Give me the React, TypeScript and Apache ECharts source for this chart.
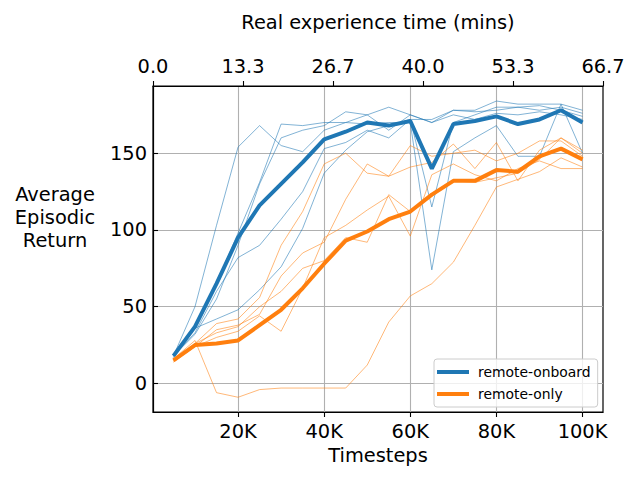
import React, { useEffect, useRef } from "react";
import * as echarts from "echarts";

const timesteps = [
  5000, 10000, 15000, 20000, 25000, 30000, 35000, 40000, 45000, 50000,
  55000, 60000, 65000, 70000, 75000, 80000, 85000, 90000, 95000, 100000,
];

const onboardMean = [18, 37, 65, 95, 116, 130, 144, 159, 164, 170, 168, 171, 140, 169, 171, 174, 169, 172, 178, 170];
const onlyMean = [15, 25, 26, 28, 38, 48, 62, 78, 93, 99, 107, 112, 123, 132, 132, 139, 138, 148, 153, 146];

const onboardRun1 = [18, 50, 103, 154, 168, 155, 151, 165, 170, 175, 165, 175, 170, 178, 178, 184, 182, 182, 182, 178];
const onboardRun2 = [17, 36, 65, 98, 131, 169, 168, 170, 170, 169, 170, 170, 74, 151, 160, 168, 148, 148, 182, 150];
const onboardRun3 = [18, 33, 60, 82, 90, 107, 125, 153, 157, 165, 160, 172, 115, 170, 175, 180, 180, 178, 180, 176];
const onboardRun4 = [17, 36, 42, 48, 61, 76, 101, 137, 152, 164, 168, 172, 172, 178, 177, 178, 180, 181, 178, 174];
const onboardRun5 = [18, 32, 55, 90, 130, 160, 165, 168, 177, 175, 180, 175, 170, 175, 172, 176, 175, 177, 175, 172];

const onlyRun1 = [16, 28, -6, -9, -4, -3, -3, -3, -3, 12, 40, 57, 65, 79, 103, 128, 133, 138, 147, 141];
const onlyRun2 = [15, 26, 39, 42, 56, 90, 112, 143, 150, 137, 135, 141, 144, 156, 140, 157, 132, 152, 160, 150];
const onlyRun3 = [14, 24, 35, 38, 45, 70, 85, 92, 120, 143, 135, 155, 148, 150, 152, 145, 150, 158, 158, 148];
const onlyRun4 = [15, 24, 30, 34, 44, 34, 62, 95, 103, 113, 122, 96, 136, 143, 136, 132, 140, 145, 140, 140];
const onlyRun5 = [14, 26, 33, 37, 50, 60, 75, 80, 95, 92, 123, 112, 122, 132, 131, 134, 137, 146, 160, 152];

const bottomTickValues = [20000, 40000, 60000, 80000, 100000];
const topTickValues = [0, 13.33333, 26.66667, 40, 53.33333, 66.66667];
const yTickValues = [0, 50, 100, 150];

const BLUE = "#1f77b4";
const ORANGE = "#ff7f0e";
const FONT = "DejaVu Sans";

const pairs = (vals: number[]) => timesteps.map((t, i) => [t, vals[i]]);

export default function App() {
  const ref = useRef<HTMLDivElement>(null);
  useEffect(() => {
    if (!ref.current) return;
    const chart = echarts.init(ref.current, undefined, { renderer: "svg" });
    const thin = (name: string, vals: number[], color: string) => ({
      type: "line",
      name,
      data: pairs(vals),
      showSymbol: false,
      silent: true,
      lineStyle: { color, width: 0.8, opacity: 0.7 },
      itemStyle: { color },
      z: 2,
    });
    const thick = (name: string, vals: number[], color: string, z: number) => ({
      type: "line",
      name,
      data: pairs(vals),
      showSymbol: false,
      lineStyle: { color, width: 4 },
      itemStyle: { color },
      z,
    });
    chart.setOption({
      animation: false,
      textStyle: { fontFamily: FONT },
      grid: {
        left: 153,
        right: 37,
        top: 86,
        bottom: 68,
        show: true,
        borderColor: "#000",
        borderWidth: 1.2,
        backgroundColor: "#fff",
      },
      legend: {
        orient: "vertical",
        left: 434,
        top: 359,
        data: [
          { name: "remote-onboard", icon: "rect" },
          { name: "remote-only", icon: "rect" },
        ],
        itemWidth: 32,
        itemHeight: 4,
        itemGap: 6,
        padding: [5, 7, 5, 3],
        borderColor: "#cccccc",
        borderWidth: 1,
        borderRadius: 3,
        backgroundColor: "rgba(255,255,255,0.8)",
        textStyle: { fontSize: 13.9, color: "#000", fontFamily: FONT, padding: [0, 0, 0, 4], lineHeight: 16 },
      },
      xAxis: [
        {
          type: "value",
          position: "bottom",
          min: 250,
          max: 104750,
          name: "Timesteps",
          nameLocation: "middle",
          nameGap: 33,
          nameTextStyle: { fontSize: 19.4, color: "#000", fontFamily: FONT },
          axisLine: { show: true, onZero: false, lineStyle: { color: "#000", width: 1.2 } },
          axisTick: { show: true, inside: false, length: 5, customValues: bottomTickValues, lineStyle: { color: "#000", width: 1.1 } },
          axisLabel: {
            customValues: bottomTickValues,
            formatter: (v: number) => `${Math.round(v / 1000)}K`,
            fontSize: 19.4,
            color: "#000",
            fontFamily: FONT,
            margin: 10,
          },
          splitLine: { show: true, lineStyle: { color: "#b0b0b0", width: 1.1 } },
        },
        {
          type: "value",
          position: "top",
          min: 0,
          max: 66.66667,
          name: "Real experience time (mins)",
          nameLocation: "middle",
          nameGap: 54,
          nameTextStyle: { fontSize: 19.4, color: "#000", fontFamily: FONT },
          axisLine: { show: true, onZero: false, lineStyle: { color: "#000", width: 1.2 } },
          axisTick: { show: true, inside: false, length: 5, customValues: topTickValues, lineStyle: { color: "#000", width: 1.1 } },
          axisLabel: {
            customValues: topTickValues,
            formatter: (v: number) => v.toFixed(1),
            fontSize: 19.4,
            color: "#000",
            fontFamily: FONT,
            margin: 10,
          },
          splitLine: { show: false },
        },
      ],
      yAxis: {
        type: "value",
        min: -18.6,
        max: 193.8,
        axisLine: { show: true, onZero: false, lineStyle: { color: "#000", width: 1.2 } },
        axisTick: { show: true, inside: true, length: 5, customValues: yTickValues, lineStyle: { color: "#000", width: 1.1 } },
        axisLabel: {
          customValues: yTickValues,
          fontSize: 19.4,
          color: "#000",
          fontFamily: FONT,
          margin: 6,
        },
        splitLine: { show: true, lineStyle: { color: "#b0b0b0", width: 1.1 } },
      },
      graphic: [
        {
          type: "text",
          x: 55,
          y: 217,
          style: {
            text: "Average\nEpisodic\nReturn",
            fontSize: 19.4,
            fontFamily: FONT,
            fill: "#000",
            align: "center",
            verticalAlign: "middle",
            lineHeight: 23,
          },
        },
      ],
      series: [
        thin("onboard-1", onboardRun1, BLUE),
        thin("onboard-2", onboardRun2, BLUE),
        thin("onboard-3", onboardRun3, BLUE),
        thin("onboard-4", onboardRun4, BLUE),
        thin("onboard-5", onboardRun5, BLUE),
        thin("only-1", onlyRun1, ORANGE),
        thin("only-2", onlyRun2, ORANGE),
        thin("only-3", onlyRun3, ORANGE),
        thin("only-4", onlyRun4, ORANGE),
        thin("only-5", onlyRun5, ORANGE),
        thick("remote-onboard", onboardMean, BLUE, 5),
        thick("remote-only", onlyMean, ORANGE, 6),
      ],
    });
    return () => chart.dispose();
  }, []);
  return (
    <div
      ref={ref}
      style={{ position: "fixed", left: 0, top: 0, width: 640, height: 480, background: "#fff" }}
    />
  );
}
